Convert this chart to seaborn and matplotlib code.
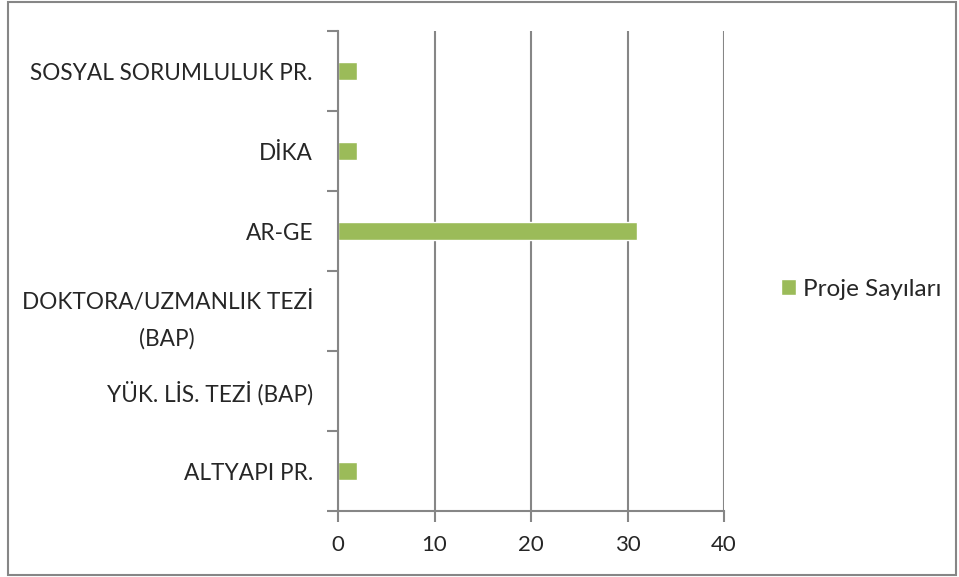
import numpy as np
import pandas as pd
import matplotlib.pyplot as plt
import seaborn as sns
from matplotlib.patches import Rectangle

# --- data ---
categories = [
    "SOSYAL SORUMLULUK PR.",
    "DİKA",
    "AR-GE",
    "DOKTORA/UZMANLIK TEZİ\n(BAP)",
    "YÜK. LİS. TEZİ (BAP)",
    "ALTYAPI PR.",
]
values = [2, 2, 31, 0, 0, 2]
series_name = "Proje Sayıları"
x_ticks = [0, 10, 20, 30, 40]

df = pd.DataFrame({"kategori": categories, "deger": values, "seri": series_name})

sns.set_theme(style="white")
plt.rcParams["font.family"] = ["Lato", "DejaVu Sans"]

gray = "#868686"
green = "#9BBB59"

fig = plt.figure(figsize=(9.59, 5.77), dpi=100)
ax = fig.add_axes([338 / 959, 1 - 511 / 577, (724 - 338) / 959, (511 - 31) / 577])

sns.barplot(
    data=df, x="deger", y="kategori", hue="seri", palette=[green],
    orient="h", width=0.225, order=categories, ax=ax, saturation=1,
)

n = len(categories)
ax.set_xlim(0, 40)
ax.set_ylim(n - 0.5, -0.5)
ax.set_xticks(x_ticks)
ax.set_xticklabels([str(t) for t in x_ticks], fontsize=16)
ax.set_xlabel("")
ax.set_ylabel("")

# category labels in the middle of the band, tick marks at band edges
ax.set_yticks(np.arange(-0.5, n, 1.0))
ax.set_yticklabels([])
ax.set_yticks(np.arange(n), minor=True)
ax.set_yticklabels(categories, minor=True, fontsize=16.3, linespacing=1.85,
                   multialignment="center")
ax.tick_params(axis="y", which="minor", length=0, pad=18)
ax.tick_params(axis="y", which="major", length=8, width=1.5, color=gray, direction="out", left=True)
ax.tick_params(axis="x", length=8, width=1.5, color=gray, direction="out", bottom=True, pad=9)

ax.xaxis.grid(True, color=gray, linewidth=1.5)
ax.set_axisbelow(True)
for s in ["top", "right"]:
    ax.spines[s].set_visible(False)
for s in ["left", "bottom"]:
    ax.spines[s].set_color(gray)
    ax.spines[s].set_linewidth(1.5)

leg = ax.legend(
    loc="center left", bbox_to_anchor=(781 / 959, 1 - 289 / 577),
    bbox_transform=fig.transFigure, frameon=False, fontsize=17.5,
    handlelength=0.62, handleheight=0.62, handletextpad=0.3,
    borderpad=0, borderaxespad=0,
)

# outer chart border
fig.patches.append(Rectangle((8 / 959, 2 / 577), 948 / 959, 573 / 577,
                             transform=fig.transFigure, fill=False,
                             edgecolor=gray, linewidth=1.5))

fig.savefig("out.png", dpi=100)
